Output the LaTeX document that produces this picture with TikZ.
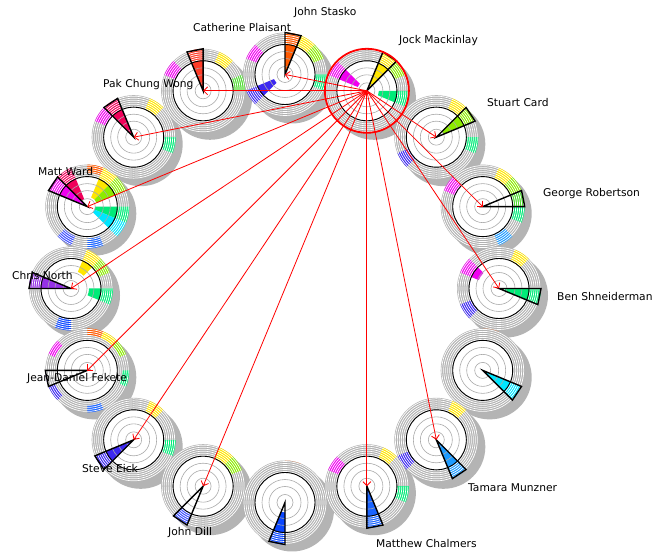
\documentclass[tikz,border=0pt]{standalone}
\usepackage{fontspec}
\setmainfont{DejaVu Sans}
\usetikzlibrary{arrows.meta}
\definecolor{c0}{HTML}{FF5A00}
\definecolor{c1}{HTML}{FFE600}
\definecolor{c2}{HTML}{8CEB00}
\definecolor{c3}{HTML}{50DC32}
\definecolor{c4}{HTML}{00EB78}
\definecolor{c5}{HTML}{00E6FF}
\definecolor{c6}{HTML}{1E9BFF}
\definecolor{c7}{HTML}{1A64FF}
\definecolor{c8}{HTML}{0A46FF}
\definecolor{c9}{HTML}{3C50FF}
\definecolor{c10}{HTML}{3C28F0}
\definecolor{c11}{HTML}{7846FF}
\definecolor{c12}{HTML}{9632E6}
\definecolor{c13}{HTML}{F000F0}
\definecolor{c14}{HTML}{F0005A}
\definecolor{c15}{HTML}{FF3C28}
\definecolor{ringgray}{HTML}{B2B2B2}
\definecolor{shadowgray}{HTML}{B4B4B4}
\definecolor{innergray}{HTML}{AAAAAA}
\newcommand{\sect}[3]{%
  \pgfmathsetmacro\gSa{67.5-22.5*#1}%
  \pgfmathsetmacro\gSb{90-22.5*#1}%
  \fill[fill=c#1] (\gSa:#2pt) arc[start angle=\gSa, end angle=\gSb, radius=#2pt] -- (\gSb:#3pt) arc[start angle=\gSb, end angle=\gSa, radius=#3pt] -- cycle;}
\newcommand{\drawglyph}[3]{%
\begin{scope}[shift={(g#1)}]
  \fill[ringgray] (0,0) circle[radius=42pt];
  \fill[white] (0,0) circle[radius=30pt];
  \foreach \j/\r in {#3} {\sect{\j}{\r}{42}}
  \sect{#1}{#2}{42}
  \foreach \k in {31,33,...,41} {\draw[white,line width=0.7pt] (0,0) circle[radius=\k pt];}
  \foreach \k in {8,16,23} {\draw[innergray,line width=0.6pt] (0,0) circle[radius=\k pt];}
  \draw[black,line width=0.9pt] (0,0) circle[radius=30pt];
  \pgfmathsetmacro\gA{67.5-22.5*#1}\pgfmathsetmacro\gB{90-22.5*#1}
  \draw[black,line width=1.4pt,line join=miter] (0,0) -- (\gA:42pt) -- (\gB:42pt) -- cycle;
\end{scope}}
\tikzset{
  link/.style={red,line width=0.8pt,-{Straight Barb[length=4pt,width=8pt]}},
  lab/.style={anchor=base west,inner sep=0pt,font=\fontsize{10.7}{12}\selectfont}
}
\begin{document}
\begin{tikzpicture}[x=1pt,y=1pt]
\useasboundingbox (0,0) rectangle (662,552);
\fill[white] (0,0) rectangle (662,552);
\coordinate (C) at (285,263.5);
\foreach \i in {0,...,15} {
  \pgfmathsetmacro\th{90-22.5*\i}
  \coordinate (g\i) at ([shift={(\th:214pt)}]C);
}
\foreach \i in {0,...,15} {\fill[shadowgray] ([shift={(7pt,-7pt)}]g\i) circle[radius=42pt];}
\drawglyph{0}{3}{10/12,13/30,1/30,2/30,4/30}
\drawglyph{2}{8}{1/30,4/30,10/30}
\drawglyph{3}{30}{1/30,2/30,6/30,13/30,4/30}
\drawglyph{4}{6}{13/22,1/30,10/30}
\drawglyph{5}{0.1}{0/42}
\drawglyph{6}{0.1}{1/30,10/30}
\drawglyph{7}{0.1}{13/30,1/30,4/30}
\drawglyph{8}{10}{0/42}
\drawglyph{9}{30}{1/30,2/30}
\drawglyph{10}{4}{1/30,4/30}
\drawglyph{11}{42}{0/35,1/35,2/35,4/35,13/35,10/35,7/35}
\drawglyph{12}{4}{1/18,4/18,2/30,8/30}
\drawglyph{13}{0.1}{14/8,1/10,2/10,4/8,5/8,0/34,9/32,7/32}
\drawglyph{14}{4}{13/30,1/30,4/30}
\drawglyph{15}{4}{13/30,1/30,3/30}
\drawglyph{1}{6}{13/10,4/12,2/30}
\foreach \j in {0,2,3,4,6,7,9,10,11,12,13,14,15} {\draw[link] (g1) -- (g\j);}
\draw[red,line width=1.8pt] (g1) circle[radius=42pt];
\node[lab] (lStasko) at (294,536) {John Stasko};
\node[lab] (lPlaisant) at (193,520) {Catherine Plaisant};
\node[lab] (lMackinlay) at (399,508) {Jock Mackinlay};
\node[lab] (lWong) at (103,464) {Pak Chung Wong};
\node[lab] (lCard) at (487,445) {Stuart Card};
\node[lab] (lWard) at (38,376) {Matt Ward};
\node[lab] (lRobertson) at (543,355) {George Robertson};
\node[lab] (lNorth) at (12,272) {Chris North};
\node[lab] (lShneiderman) at (557,251) {Ben Shneiderman};
\node[lab] (lFekete) at (27,170) {Jean-Daniel Fekete};
\node[lab] (lEick) at (82,79) {Steve Eick};
\node[lab] (lMunzner) at (468,60) {Tamara Munzner};
\node[lab] (lDill) at (168,16) {John Dill};
\node[lab] (lChalmers) at (376,4) {Matthew Chalmers};
\end{tikzpicture}
\end{document}
